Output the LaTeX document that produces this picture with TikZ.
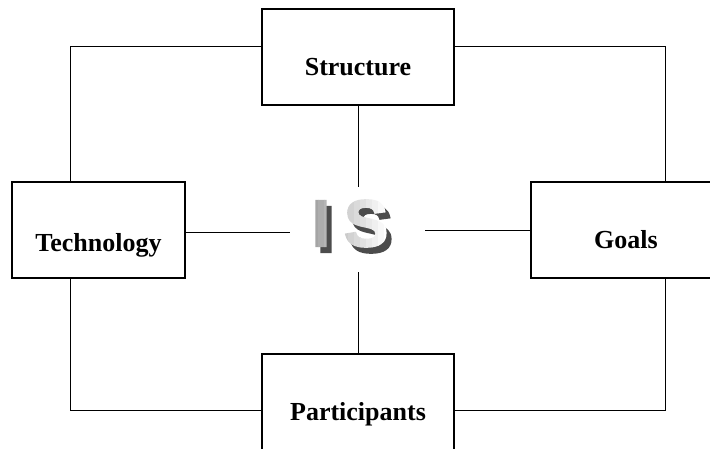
\documentclass[tikz,border=0pt]{standalone}
\usepackage{fontspec}
\setmainfont{Liberation Serif}
\newfontfamily\logofont{Liberation Sans}[BoldFeatures={FakeBold=3}]

\definecolor{shadowgray}{HTML}{4C4C4C}
\newcommand{\logotext}{\fontsize{66bp}{66bp}\logofont\bfseries}
\newcommand{\logoword}{I\kern14bp S}

\begin{document}
\begin{tikzpicture}[x=1bp, y=1bp,
  box/.style={draw, line width=1.6bp, rectangle, fill=white, inner sep=0pt},
  link/.style={line width=1bp},
  label/.style={font=\fontsize{26bp}{26bp}\selectfont\bfseries, inner sep=0pt, anchor=base},
  logo/.style={font=\logotext, inner sep=0pt}]

  \useasboundingbox (0,0) rectangle (710,449);
  \clip (0,0) rectangle (710,449);

  % the four boxes
  \node[box, minimum width=192bp, minimum height=96bp] (structure)    at (358,392) {};
  \node[box, minimum width=173bp, minimum height=96bp] (technology)   at (98.5,219) {};
  \node[box, minimum width=190bp, minimum height=96bp] (goals)        at (626,219) {};
  \node[box, minimum width=192bp, minimum height=96bp] (participants) at (358,47) {};

  % box captions
  \node[label] (structuretext)    at (358,373)  {Structure};
  \node[label] (technologytext)   at (98.5,197) {Technology};
  \node[label] (goalstext)        at (626,200)  {Goals};
  \node[label] (participantstext) at (358,28)   {Participants};

  % outer ring of connectors
  \draw[link] ([yshift=10bp]structure.west) -| ([xshift=-28.5bp]technology.north);
  \draw[link] ([xshift=-28.5bp]technology.south) |- ([yshift=-9bp]participants.west);
  \draw[link] ([yshift=10bp]structure.east) -| ([xshift=39bp]goals.north);
  \draw[link] ([xshift=39bp]goals.south) |- ([yshift=-9bp]participants.east);

  % spokes towards the centre
  \coordinate (hubtop)    at (358,262);
  \coordinate (hubbottom) at (358,177);
  \coordinate (hubleft)   at (290,216);
  \coordinate (hubright)  at (425,218);
  \draw[link] (structure.south) -- (hubtop);
  \draw[link] (participants.north) -- (hubbottom);
  \draw[link] (technology.east |- hubleft) -- (hubleft);
  \draw[link] (goals.west |- hubright) -- (hubright);

  % centre logo: dark drop shadow first
  \coordinate (logocentre) at (350,225.5);
  \node[logo, text=shadowgray] (isshadow) at ([shift={(5,-6)}]logocentre) {\logoword};
  % then the face, filled with a grey-to-white ramp built from clipped bands
  \foreach \i in {0,...,13} {
    \pgfmathsetmacro{\tone}{62+38*\i/13}
    \begin{scope}
      \clip (306+6*\i,180) rectangle (312.3+6*\i,270);
      \node[logo, text=white!\tone!black] at (logocentre) {\logoword};
    \end{scope}
  }
\end{tikzpicture}
\end{document}
